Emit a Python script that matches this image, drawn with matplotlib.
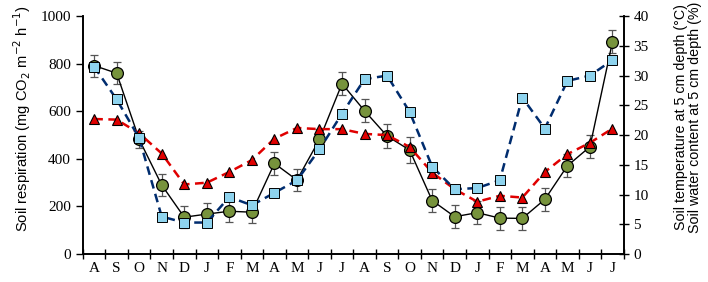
import matplotlib
matplotlib.use("Agg")
from matplotlib import pyplot as plt
from matplotlib import font_manager as fm
from matplotlib.ticker import FixedLocator

# month labels (Aug -> Jul, two years)
months = ["A", "S", "O", "N", "D", "J", "F", "M", "A", "M", "J", "J",
          "A", "S", "O", "N", "D", "J", "F", "M", "A", "M", "J", "J"]

# soil respiration (mg CO2 m-2 h-1) and its error
respiration = [792, 760, 482, 290, 155, 168, 180, 176, 381, 311, 482, 716,
               602, 496, 437, 225, 157, 174, 151, 150, 230, 371, 451, 892]
resp_err = [46, 46, 35, 46, 45, 45, 45, 45, 48, 45, 45, 48,
            48, 50, 53, 48, 48, 48, 48, 48, 48, 48, 49, 49]

# soil temperature at 5 cm (degC)
temperature = [22.7, 22.6, 20.3, 16.9, 11.7, 12.0, 13.8, 15.8, 19.4, 21.2, 21.0, 21.0,
               20.2, 20.0, 18.0, 13.7, 10.9, 8.8, 9.8, 9.5, 13.8, 16.8, 18.7, 21.1]

# soil water content at 5 cm (%)
water = [31.5, 26.0, 19.5, 6.3, 5.3, 5.3, 9.6, 8.2, 10.3, 12.4, 17.6, 23.6,
         29.4, 30.0, 23.9, 14.7, 10.9, 11.1, 12.4, 26.3, 21.1, 29.1, 30.0, 32.6]

serif = "Liberation Serif"
names = {f.name for f in fm.fontManager.ttflist}
narrow = "Liberation Sans Narrow" in names
sans = "Liberation Sans Narrow" if narrow else "Liberation Sans"
left_size = 12 if narrow else 10.6
right_size = 11.5 if narrow else 10.3

fig = plt.figure(figsize=(7.08, 2.82), dpi=100)
ax = fig.add_axes([0.117, 0.099, 0.764, 0.844])
x = list(range(len(months)))

ax.errorbar(x, respiration, yerr=resp_err, color="black", lw=1.0,
            ecolor="#555555", elinewidth=0.9, capsize=3, capthick=0.9,
            marker="o", markersize=8.5, markerfacecolor="#77933C",
            markeredgecolor="black", markeredgewidth=0.9, zorder=3)

ax.set_xlim(-0.5, len(months) - 0.5)
ax.set_ylim(0, 1000)
ax.set_yticks(range(0, 1001, 200))

ax.xaxis.set_major_locator(FixedLocator([i - 0.5 for i in range(len(months) + 1)]))
ax.set_xticklabels([])
ax.set_xticks(x, minor=True)
ax.set_xticklabels(months, minor=True, family=serif, fontsize=11)
ax.tick_params(axis="x", which="major", direction="inout", length=7, width=1)
ax.tick_params(axis="x", which="minor", length=0, pad=6)
ax.tick_params(axis="y", direction="out", length=5, width=1)
for lbl in ax.get_yticklabels():
    lbl.set_family(serif)
    lbl.set_fontsize(11)

ax2 = ax.twinx()
ax2.plot(x, temperature, color="#E00000", lw=1.8, ls=(0, (3.5, 2.2)),
         marker="^", markersize=7, markerfacecolor="#E00000",
         markeredgecolor="black", markeredgewidth=0.8, zorder=3)
ax2.plot(x, water, color="#002C6E", lw=1.8, ls=(0, (3.5, 2.2)),
         marker="s", markersize=6.5, markerfacecolor="#8ED3EE",
         markeredgecolor="black", markeredgewidth=0.7, zorder=4)
ax2.set_ylim(0, 40)
ax2.set_yticks(range(0, 41, 5))
ax2.tick_params(axis="y", direction="inout", length=7, width=1)
for lbl in ax2.get_yticklabels():
    lbl.set_family(serif)
    lbl.set_fontsize(11)

for a in (ax, ax2):
    a.spines["top"].set_visible(False)
    for s in ("left", "right", "bottom"):
        a.spines[s].set_linewidth(1.2)

# axis titles placed like the original (shifted a little upward)
fig.text(0.031, 0.578, "Soil respiration (mg CO$_2$ m$^{-2}$ h$^{-1}$)",
         rotation=90, ha="center", va="center", family=sans, fontsize=left_size)
fig.text(0.972, 0.585,
         "Soil temperature at 5 cm depth (\u00b0C)\nSoil water content at 5 cm depth (%)",
         rotation=90, ha="center", va="center", family=sans, fontsize=right_size,
         linespacing=1.05)

fig.savefig("out.png", dpi=100)
